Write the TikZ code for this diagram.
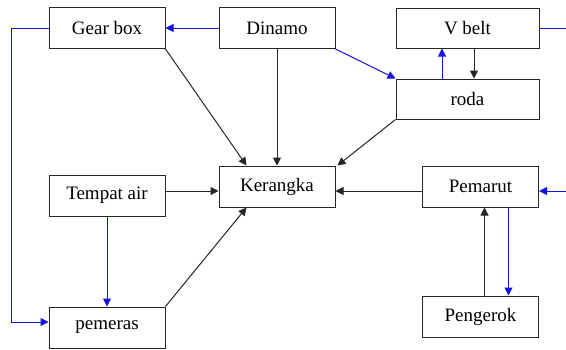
\documentclass[tikz,border=0pt]{standalone}
\usepackage{fontspec}
\setmainfont{Liberation Serif}
\newfontfamily\boxfont{Liberation Serif}
\usepackage{xcolor}
\usetikzlibrary{arrows.meta,positioning}
\definecolor{linkblue}{RGB}{20,20,220}

\begin{document}
\begin{tikzpicture}[
    x=1pt, y=-1pt,
    box/.style={draw=black!85, line width=1pt, inner sep=0pt, minimum width=116pt, minimum height=41pt, font=\boxfont\fontsize{19}{22}\selectfont},
    wide/.style={box, minimum width=143pt, minimum height=40pt},
    arr/.style={-{Triangle[length=8pt,width=8pt]}, line width=1pt, black!85},
    barr/.style={arr, linkblue}
]
\useasboundingbox (0,0) rectangle (566,349);

\node[box] (gearbox) at (107,28) {Gear box};
\node[box] (dinamo) at (277,28) {Dinamo};
\node[wide] (vbelt) at (467.5,28) {V belt};
\node[wide] (roda) at (467.5,99) {roda};
\node[box] (kerangka) at (277,186.5) {Kerangka};
\node[box] (tempat) at (107,195.5) {Tempat air};
\node[box] (pemeras) at (107,327.5) {pemeras};
\node[box] (pemarut) at (480.5,186.5) {Pemarut};
\node[box] (pengerok) at (480.5,316.5) {Pengerok};

% blue links
\draw[barr] (dinamo) -- (gearbox);
\draw[barr] (dinamo.south east) -- (roda.north west);
\draw[barr] ([xshift=-25.5pt]roda.north) -- ([xshift=-25.5pt]vbelt.south);
\draw[barr] (tempat) -- (pemeras);
\draw[barr] ([xshift=28pt]pemarut.south) -- ([xshift=28pt]pengerok.north);
\draw[barr] (gearbox.west) -| (11,322) -- (pemeras.west |- 0,322);
\draw[barr] (vbelt.east) -- (572,28) |- (pemarut.east |- 0,191);

% black links
\draw[arr] (gearbox.south east) -- ([xshift=28pt]kerangka.north west);
\draw[arr] (dinamo) -- (kerangka);
\draw[arr] ([xshift=6.5pt]vbelt.south) -- ([xshift=6.5pt]roda.north);
\draw[arr] (roda.south west) -- ([xshift=2pt]kerangka.north east);
\draw[arr] (tempat.east |- 0,191) -- (kerangka.west |- 0,191);
\draw[arr] (pemeras.north east) -- ([xshift=28pt]kerangka.south west);
\draw[arr] (pemarut.west |- 0,191) -- (kerangka.east |- 0,191);
\draw[arr] ([xshift=4pt]pengerok.north) -- ([xshift=4pt]pemarut.south);
\end{tikzpicture}
\end{document}
